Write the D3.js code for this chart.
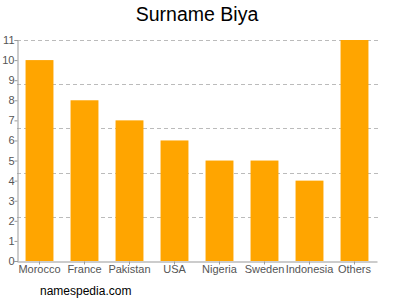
<!DOCTYPE html>
<html>
<head>
<meta charset="utf-8">
<script src="https://cdn.jsdelivr.net/npm/d3@7"></script>
<style>
  body { margin: 0; background: #fff; }
  svg { display: block; font-family: Arial, "Liberation Sans", sans-serif; }
</style>
</head>
<body>
<div id="chart"></div>
<script>
// Data
const countries = ['Morocco', 'France', 'Pakistan', 'USA', 'Nigeria', 'Sweden', 'Indonesia', 'Others'];
const counts = [10, 8, 7, 6, 5, 5, 4, 11];
const yTicks = [0, 1, 2, 3, 4, 5, 6, 7, 8, 9, 10, 11];
const gridValues = [2.2, 4.4, 6.6, 8.8, 11];

const width = 400, height = 300;
const margin = { top: 40, right: 23, bottom: 39, left: 17 };

const svg = d3.select('#chart')
  .append('svg')
  .attr('width', width)
  .attr('height', height);

const x = d3.scaleBand()
  .domain(countries)
  .range([margin.left, width - margin.right])
  .paddingInner(0.38)
  .paddingOuter(0.19);

const y = d3.scaleLinear()
  .domain([0, 11])
  .range([height - margin.bottom, margin.top]);

// Dashed gridlines
svg.append('g')
  .selectAll('line')
  .data(gridValues)
  .join('line')
  .attr('x1', margin.left)
  .attr('x2', width - margin.right + 2)
  .attr('y1', d => Math.round(y(d)) + 0.5)
  .attr('y2', d => Math.round(y(d)) + 0.5)
  .attr('stroke', '#bbb')
  .attr('stroke-dasharray', '4,3');

// Bars
svg.append('g')
  .selectAll('rect')
  .data(countries)
  .join('rect')
  .attr('x', d => x(d))
  .attr('y', (d, i) => y(counts[i]))
  .attr('width', x.bandwidth())
  .attr('height', (d, i) => y(0) - y(counts[i]))
  .attr('fill', '#ffa500');

// Left axis
const yAxis = svg.append('g')
  .attr('transform', `translate(${margin.left + 0.5},0)`)
  .call(d3.axisLeft(y).tickValues(yTicks).tickSize(3).tickFormat(d3.format('d')));
yAxis.select('.domain').attr('stroke', '#999');
yAxis.selectAll('.tick line').attr('stroke', '#999');
yAxis.selectAll('.tick text')
  .attr('fill', '#555')
  .style('font-size', '11px')
  .attr('x', -3);

// Bottom axis
const xAxis = svg.append('g')
  .attr('transform', `translate(0,${y(0) + 0.5})`)
  .call(d3.axisBottom(x).tickSize(3).tickSizeOuter(0));
xAxis.select('.domain').attr('stroke', '#999');
xAxis.selectAll('.tick line').attr('stroke', '#999');
xAxis.selectAll('.tick text')
  .attr('fill', '#555')
  .style('font-size', '11px')
  .attr('y', 4);

// Title
svg.append('text')
  .attr('x', width / 2 - 3)
  .attr('y', 21)
  .attr('text-anchor', 'middle')
  .style('font-size', '19.5px')
  .attr('fill', '#000')
  .text('Surname Biya');

// Footer
svg.append('text')
  .attr('x', 40)
  .attr('y', 295)
  .style('font-size', '12px')
  .attr('fill', '#000')
  .text('namespedia.com');
</script>
</body>
</html>
